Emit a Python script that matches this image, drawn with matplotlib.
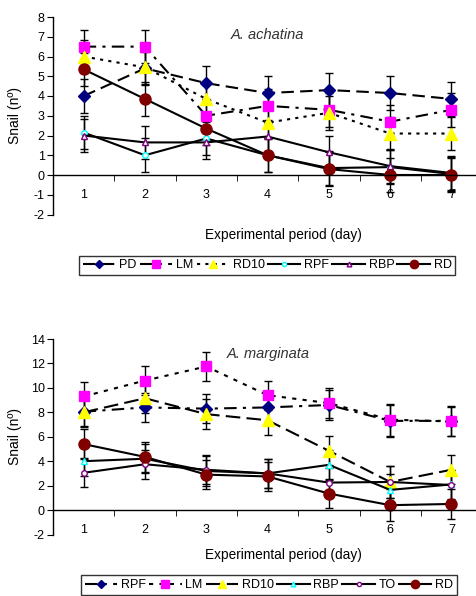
import matplotlib
matplotlib.use("Agg")
import matplotlib.pyplot as plt
from matplotlib.lines import Line2D
import numpy as np

plt.rcParams['font.family'] = ['Liberation Sans', 'DejaVu Sans']
plt.rcParams['axes.unicode_minus'] = False

days = [1, 2, 3, 4, 5, 6, 7]
day_labels = ['1', '2', '3', '4', '5', '6', '7']

# ---- A. achatina ----
a_PD = [4.0, 5.4, 4.65, 4.15, 4.3, 4.15, 3.85]
a_LM = [6.5, 6.5, 3.0, 3.5, 3.3, 2.7, 3.3]
a_RD10 = [6.0, 5.45, 3.85, 2.65, 3.15, 2.1, 2.1]
a_RPF = [2.15, 1.0, 1.85, 1.0, 0.35, 0.4, 0.05]
a_RBP = [2.0, 1.65, 1.65, 1.95, 1.15, 0.45, 0.1]
a_RD = [5.35, 3.85, 2.35, 1.0, 0.3, 0.0, 0.0]
a_err = [0.85, 0.85, 0.85, 0.85, 0.85, 0.85, 0.85]

# ---- A. marginata ----
m_RPF = [8.05, 8.4, 8.3, 8.4, 8.6, 7.3, 7.3]
m_LM = [9.3, 10.6, 11.75, 9.4, 8.75, 7.4, 7.25]
m_RD10 = [8.0, 9.15, 7.85, 7.35, 4.85, 2.3, 3.3]
m_RBP = [4.0, 4.2, 3.2, 3.0, 3.7, 1.65, 2.1]
m_TO = [3.05, 3.75, 3.3, 3.0, 2.25, 2.3, 2.05]
m_RD = [5.4, 4.35, 2.9, 2.75, 1.35, 0.4, 0.5]
m_err = [1.2, 1.2, 1.2, 1.2, 1.2, 1.3, 1.2]

NAVY = '#000080'
MAG = '#ff00ff'
YEL = '#ffff00'
CYAN = '#00ffff'
PURP = '#800080'
DRED = '#800000'

W, H = 477, 596
fig = plt.figure(figsize=(W/100, H/100), dpi=100)

def style_axes(ax, ymin, ymax, ystep):
    ax.set_xlim(0.5, 7.4)
    ax.set_ylim(ymin, ymax)
    ax.spines['top'].set_visible(False)
    ax.spines['right'].set_visible(False)
    ax.spines['bottom'].set_position(('data', 0))
    ax.set_xticks(days)
    ax.set_xticklabels(day_labels)
    ax.set_xticks([0.5, 1.5, 2.5, 3.5, 4.5, 5.5, 6.5], minor=True)
    ax.tick_params(axis='x', which='major', length=0, pad=10, labelsize=9)
    ax.tick_params(axis='x', which='minor', length=4, direction='out')
    ax.set_yticks(np.arange(ymin, ymax + 0.1, ystep))
    ax.tick_params(axis='y', length=4, direction='out', labelsize=9, pad=2)
    for s in ax.spines.values():
        s.set_linewidth(1.0)
    ax.set_ylabel('Snail (nº)', fontsize=10)
    ax.yaxis.set_label_coords(-0.073, 0.5)

def series(ax, y, err, ls, marker, mfc, mec, ms, label):
    ax.errorbar(days, y, yerr=err, color='black', ls=ls, lw=1.5,
                marker=marker, mfc=mfc, mec=mec, ms=ms, mew=1.0,
                ecolor='black', elinewidth=1.0, capsize=3, capthick=1.0,
                clip_on=False)
    return Line2D([], [], color='black', ls=ls, lw=1.5, marker=marker,
                  mfc=mfc, mec=mec, ms=ms * 0.75, mew=1.0, label=label)

def legend(handles, ycenter, xcenter):
    leg = fig.legend(handles=handles, loc='center',
                     bbox_to_anchor=(xcenter/W, 1-ycenter/H), ncol=6,
                     fontsize=9, frameon=True, fancybox=False, edgecolor='black',
                     handlelength=2.6, handletextpad=0.3, columnspacing=0.25,
                     borderpad=0.3, borderaxespad=0)
    leg.get_frame().set_linewidth(1.0)

# top chart
ax1 = fig.add_axes([53/W, 1-214.5/H, (476-53)/W, (214.5-17)/H])
style_axes(ax1, -2, 8, 1)
hs = [
    series(ax1, a_PD, a_err, (0, (6, 3)), 'D', NAVY, NAVY, 6, 'PD'),
    series(ax1, a_LM, a_err, (0, (6, 3, 1.5, 3)), 's', MAG, MAG, 7, 'LM'),
    series(ax1, a_RD10, a_err, (0, (1.5, 2.5)), '^', YEL, YEL, 8, 'RD10'),
    series(ax1, a_RPF, a_err, '-', 'o', 'white', CYAN, 4, 'RPF'),
    series(ax1, a_RBP, a_err, '-', '^', 'white', PURP, 4.5, 'RBP'),
    series(ax1, a_RD, a_err, '-', 'o', DRED, DRED, 8, 'RD'),
]
ax1.text(3.4, 7.1, 'A. achatina', style='italic', fontsize=10.5, va='center', ha='left', color='#333333')
fig.text(283/W, 1-235/H, 'Experimental period (day)', fontsize=9.8, ha='center', va='center')
legend(hs, 265.5, 267.5)

# bottom chart
ax2 = fig.add_axes([53/W, 1-534.5/H, (476-53)/W, (534.5-339)/H])
style_axes(ax2, -2, 14, 2)
hs = [
    series(ax2, m_RPF, m_err, (0, (6, 3, 1.5, 3)), 'D', NAVY, NAVY, 6, 'RPF'),
    series(ax2, m_LM, m_err, (0, (2, 3)), 's', MAG, MAG, 7, 'LM'),
    series(ax2, m_RD10, m_err, (0, (7, 3)), '^', YEL, YEL, 8, 'RD10'),
    series(ax2, m_RBP, m_err, '-', '^', 'white', CYAN, 4.5, 'RBP'),
    series(ax2, m_TO, m_err, '-', 'o', 'white', PURP, 4, 'TO'),
    series(ax2, m_RD, m_err, '-', 'o', DRED, DRED, 8, 'RD'),
]
ax2.text(3.33, 12.8, 'A. marginata', style='italic', fontsize=10.5, va='center', ha='left', color='#333333')
fig.text(283/W, 1-555/H, 'Experimental period (day)', fontsize=9.8, ha='center', va='center')
legend(hs, 585, 269)

fig.savefig('out.png', dpi=100)
